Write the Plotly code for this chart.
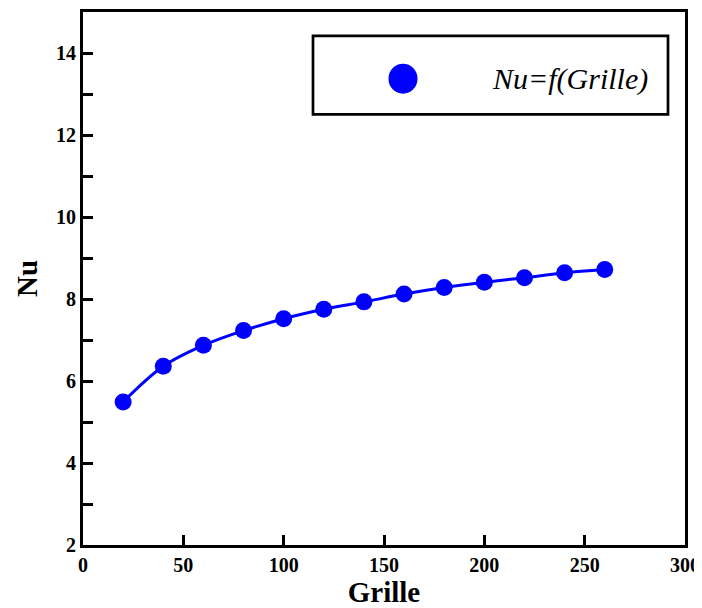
import plotly.graph_objects as go

grille = [20, 40, 60, 80, 100, 120, 140, 160, 180, 200, 220, 240, 260]
nu = [5.49, 6.36, 6.87, 7.23, 7.52, 7.75, 7.93, 8.12, 8.28, 8.41, 8.52, 8.64, 8.72]
series_name = "Nu=f(Grille)"
x_title = "Grille"
y_title = "Nu"

# page is rendered with an 8px body margin
OFF = 8
W, H = 702, 608 - OFF
# plot area in page pixels: x 83..685, y 9..545
L, R, T, B = 83 - OFF, W - (685 - OFF), 9 - OFF, H - (545 - OFF)
pw, ph = W - L - R, H - T - B

def px(x):
    return (x - OFF - L) / pw

def py(y):
    return (H - B - (y - OFF)) / ph

fig = go.Figure()
fig.add_trace(go.Scatter(
    x=grille, y=nu, mode="lines+markers", name=series_name,
    line=dict(color="#0000FF", width=3, shape="spline"),
    marker=dict(color="#0000FF", size=17),
    showlegend=False,
))

serif = "Liberation Serif, Times New Roman, serif"
tickfont = dict(family=serif, size=20, color="black", weight="bold")
axcommon = dict(
    showgrid=False, zeroline=False, showline=True, linecolor="black", linewidth=3,
    mirror=True, ticks="inside", ticklen=10, tickwidth=2.5, tickcolor="black",
    tickfont=tickfont,
)

fig.update_xaxes(range=[0, 300], dtick=50, tick0=0,
                 title=dict(text="<b>" + x_title + "</b>",
                            font=dict(family=serif, size=29, color="black"),
                            standoff=6),
                 **axcommon)
fig.update_yaxes(range=[2, 15], dtick=2, tick0=2,
                 minor=dict(dtick=1, tick0=2, ticks="inside", ticklen=10, tickwidth=2.5, tickcolor="black"),
                 title=dict(text="<b>" + y_title + "</b>",
                            font=dict(family=serif, size=29, color="black"),
                            standoff=10),
                 **axcommon)

# legend-like box drawn manually
fig.add_shape(type="rect", xref="paper", yref="paper",
              x0=px(313), x1=px(668), y0=py(112), y1=py(33),
              line=dict(color="black", width=2.7), fillcolor="white", layer="above")
fig.add_shape(type="circle", xref="paper", yref="paper",
              xsizemode="pixel", ysizemode="pixel",
              xanchor=px(403), yanchor=py(76),
              x0=-14.5, x1=14.5, y0=-15, y1=15,
              line=dict(color="#0000FF", width=0), fillcolor="#0000FF", layer="above")
fig.add_annotation(xref="paper", yref="paper", x=px(570), y=py(76),
                   text="<i>" + series_name + "</i>", showarrow=False,
                   font=dict(family=serif, size=30, color="black"),
                   xanchor="center", yanchor="middle")

fig.update_layout(
    width=W, height=H,
    margin=dict(l=L, r=R, t=T, b=B),
    paper_bgcolor="white", plot_bgcolor="white",
)

fig.write_html("out.html", config={"displayModeBar": False},
               post_script="document.documentElement.style.overflow='hidden';")
